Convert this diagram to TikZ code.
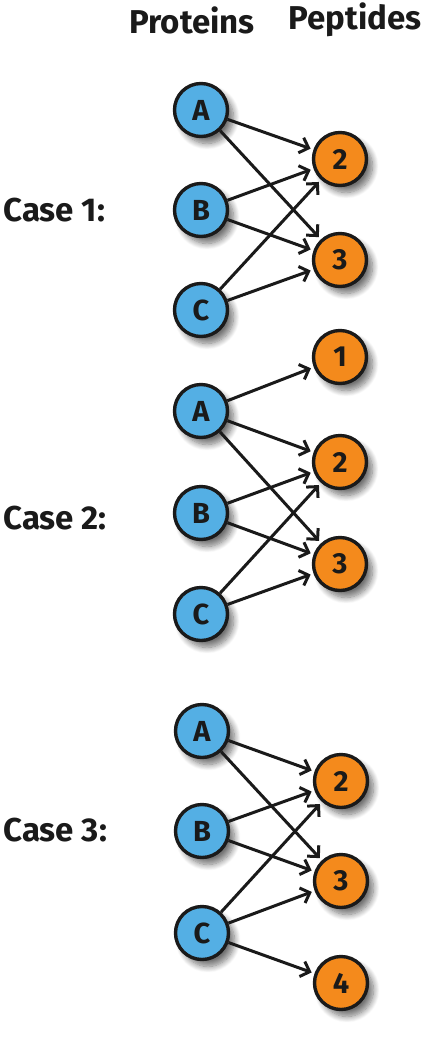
\documentclass[tikz,border=0pt]{standalone}
\usepackage{fontspec}
\setmainfont{Fira Sans}
\usetikzlibrary{arrows.meta,shadows.blur}
\definecolor{protblue}{RGB}{84,175,228}
\definecolor{pepor}{RGB}{244,138,28}
\definecolor{ink}{RGB}{26,26,26}
\begin{document}
\begin{tikzpicture}[x=1pt,y=-1pt,
  every node/.style={text=ink},
  prot/.style={circle,draw=ink,line width=3.4pt,fill=protblue,minimum size=53pt,inner sep=0pt,
     font=\fontsize{29}{29}\selectfont\bfseries,
     blur shadow={shadow xshift=6pt,shadow yshift=-7pt,shadow blur steps=10,shadow blur radius=6pt,shadow opacity=55}},
  pep/.style={prot,fill=pepor},
  head/.style={font=\fontsize{33}{33}\selectfont\bfseries},
  caselbl/.style={font=\fontsize{33}{33}\selectfont\bfseries,anchor=west},
  link/.style={draw=ink,line width=3pt,-{Straight Barb[length=8pt,width=16pt,line width=3pt]},shorten >=3pt}
]
\useasboundingbox (0,0) rectangle (424,1050);
\node[head] (hp) at (192,20) {Proteins};
\node[head] (hq) at (355,20) {Peptides};

% Case 1
\node[caselbl] (c1) at (0,210) {Case 1:};
\node[prot] (a1) at (201,110) {A};
\node[prot] (b1) at (201,210) {B};
\node[prot] (cc1) at (201,310) {C};
\node[pep] (p12) at (340,159) {2};
\node[pep] (p13) at (340,260) {3};
\draw[link] (a1) -- (p12);
\draw[link] (a1) -- (p13);
\draw[link] (b1) -- (p12);
\draw[link] (b1) -- (p13);
\draw[link] (cc1) -- (p12);
\draw[link] (cc1) -- (p13);

% Case 2
\node[caselbl] (c2) at (0,518) {Case 2:};
\node[pep] (p21) at (340,357) {1};
\node[prot] (a2) at (201,411) {A};
\node[pep] (p22) at (340,462) {2};
\node[prot] (b2) at (201,513) {B};
\node[pep] (p23) at (340,564) {3};
\node[prot] (cc2) at (201,614) {C};
\draw[link] (a2) -- (p21);
\draw[link] (a2) -- (p22);
\draw[link] (a2) -- (p23);
\draw[link] (b2) -- (p22);
\draw[link] (b2) -- (p23);
\draw[link] (cc2) -- (p22);
\draw[link] (cc2) -- (p23);

% Case 3
\node[caselbl] (c3) at (0,830) {Case 3:};
\node[prot] (a3) at (202,731) {A};
\node[pep] (p32) at (341,781) {2};
\node[prot] (b3) at (202,831) {B};
\node[pep] (p33) at (341,881) {3};
\node[prot] (cc3) at (202,933) {C};
\node[pep] (p34) at (341,983) {4};
\draw[link] (a3) -- (p32);
\draw[link] (a3) -- (p33);
\draw[link] (b3) -- (p32);
\draw[link] (b3) -- (p33);
\draw[link] (cc3) -- (p32);
\draw[link] (cc3) -- (p33);
\draw[link] (cc3) -- (p34);
\end{tikzpicture}
\end{document}
